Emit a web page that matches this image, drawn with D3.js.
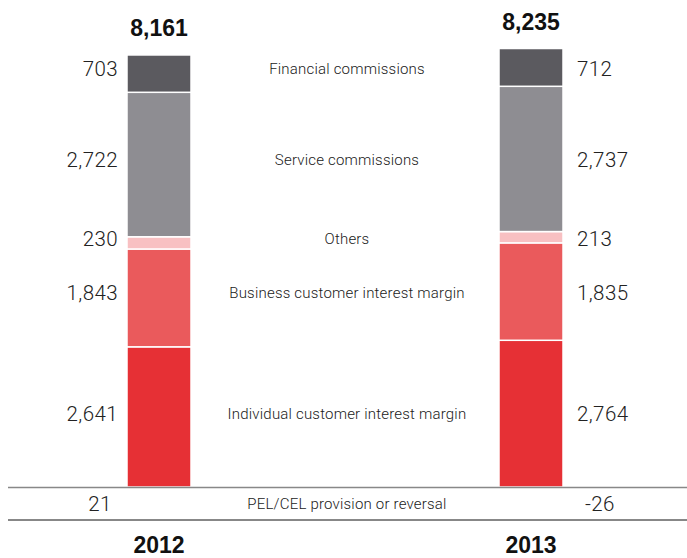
<!DOCTYPE html>
<html>
<head>
<meta charset="utf-8">
<script src="https://cdn.jsdelivr.net/npm/d3@7"></script>
<style>
  body { margin: 0; background: #fff; }
  svg { display: block; font-family: "Liberation Sans", Arial, sans-serif; }
</style>
</head>
<body>
<svg id="chart"></svg>
<script>
const years = ["2012", "2013"];
const categories = [
  "Individual customer interest margin",
  "Business customer interest margin",
  "Others",
  "Service commissions",
  "Financial commissions"
];
const values2012 = [2641, 1843, 230, 2722, 703];
const values2013 = [2764, 1835, 213, 2737, 712];
const totals = [8161, 8235];
const provisionLabel = "PEL/CEL provision or reversal";
const provision = [21, -26];
const colors = ["#e63035", "#ea5a5c", "#f8c0c2", "#8e8d92", "#5b5a5f"];

const width = 687;
const height = 558;
const baseline = 487;
const labelX = 347;

const svg = d3.select("#chart").attr("width", width).attr("height", height);

// bar centers
const xc = d3.scalePoint().domain(years).range([159, 531]);
const barW = 64;

const y = d3.scaleLinear().domain([0, 8261]).range([baseline, 48.5]);

const fmt = d3.format(",");
const series = [values2012, values2013];

// stack each year
const stacked = series.map(vals => {
  let acc = 0;
  return vals.map((v, i) => {
    const s = { i, y0: acc, y1: acc + v, v };
    acc += v;
    return s;
  });
});

years.forEach((yr, j) => {
  svg.append("g")
    .selectAll("rect")
    .data(stacked[j])
    .join("rect")
    .attr("x", xc(yr) - barW / 2)
    .attr("width", barW)
    .attr("y", d => y(d.y1))
    .attr("height", d => y(d.y0) - y(d.y1))
    .attr("fill", d => colors[d.i])
    .attr("stroke", "#fff")
    .attr("stroke-width", 1.5);

  // totals
  svg.append("text")
    .attr("x", xc(yr))
    .attr("y", y(stacked[j][4].y1) - 19)
    .attr("text-anchor", "middle")
    .attr("font-size", 23)
    .attr("font-weight", "bold")
    .attr("fill", "#111")
    .text(fmt(totals[j]));
});

// row label positions: average of segment midpoints of both bars
const rowY = categories.map((c, i) =>
  d3.mean(stacked, s => y((s[i].y0 + s[i].y1) / 2)) - 1.5
);

const catStyle = sel => sel
  .attr("font-size", 15)
  .attr("font-family", "Roboto, sans-serif")
  .attr("font-weight", 300)
  .attr("letter-spacing", 0.2)
  .attr("fill", "#1a1a1a");

svg.append("g")
  .selectAll("text")
  .data(categories)
  .join("text")
  .attr("x", labelX)
  .attr("y", (d, i) => rowY[i])
  .attr("dy", "0.35em")
  .attr("text-anchor", "middle")
  .call(catStyle)
  .text(d => d);

// value labels
const numStyle = sel => sel
  .attr("font-size", 20.5)
  .attr("font-family", "Roboto, sans-serif")
  .attr("font-weight", 300)
  .attr("letter-spacing", 0.4)
  .attr("fill", "#222");

svg.append("g")
  .selectAll("text")
  .data(values2012)
  .join("text")
  .attr("x", xc("2012") - barW / 2 - 9)
  .attr("y", (d, i) => rowY[i])
  .attr("dy", "0.35em")
  .attr("text-anchor", "end")
  .call(numStyle)
  .text(d => fmt(d));

svg.append("g")
  .selectAll("text")
  .data(values2013)
  .join("text")
  .attr("x", xc("2013") + barW / 2 + 14)
  .attr("y", (d, i) => rowY[i])
  .attr("dy", "0.35em")
  .attr("text-anchor", "start")
  .call(numStyle)
  .text(d => fmt(d));

// baseline and bottom rule
svg.append("line")
  .attr("x1", 8).attr("x2", width)
  .attr("y1", baseline + 0.5).attr("y2", baseline + 0.5)
  .attr("stroke", "#888").attr("stroke-width", 1.5);

svg.append("line")
  .attr("x1", 8).attr("x2", width)
  .attr("y1", 520).attr("y2", 520)
  .attr("stroke", "#111").attr("stroke-width", 1);

// provision row
svg.append("text")
  .attr("x", labelX).attr("y", 504).attr("dy", "0.35em")
  .attr("text-anchor", "middle")
  .call(catStyle)
  .text(provisionLabel);

const provX = [100, 600];
svg.append("g")
  .selectAll("text")
  .data(provision)
  .join("text")
  .attr("x", (d, i) => provX[i])
  .attr("y", 504).attr("dy", "0.35em")
  .attr("text-anchor", "middle")
  .call(numStyle)
  .text(d => d);

// year labels
svg.append("g")
  .selectAll("text")
  .data(years)
  .join("text")
  .attr("x", d => xc(d))
  .attr("y", 545).attr("dy", "0.35em")
  .attr("text-anchor", "middle")
  .attr("font-size", 23)
  .attr("font-weight", "bold")
  .attr("fill", "#111")
  .text(d => d);
</script>
</body>
</html>
